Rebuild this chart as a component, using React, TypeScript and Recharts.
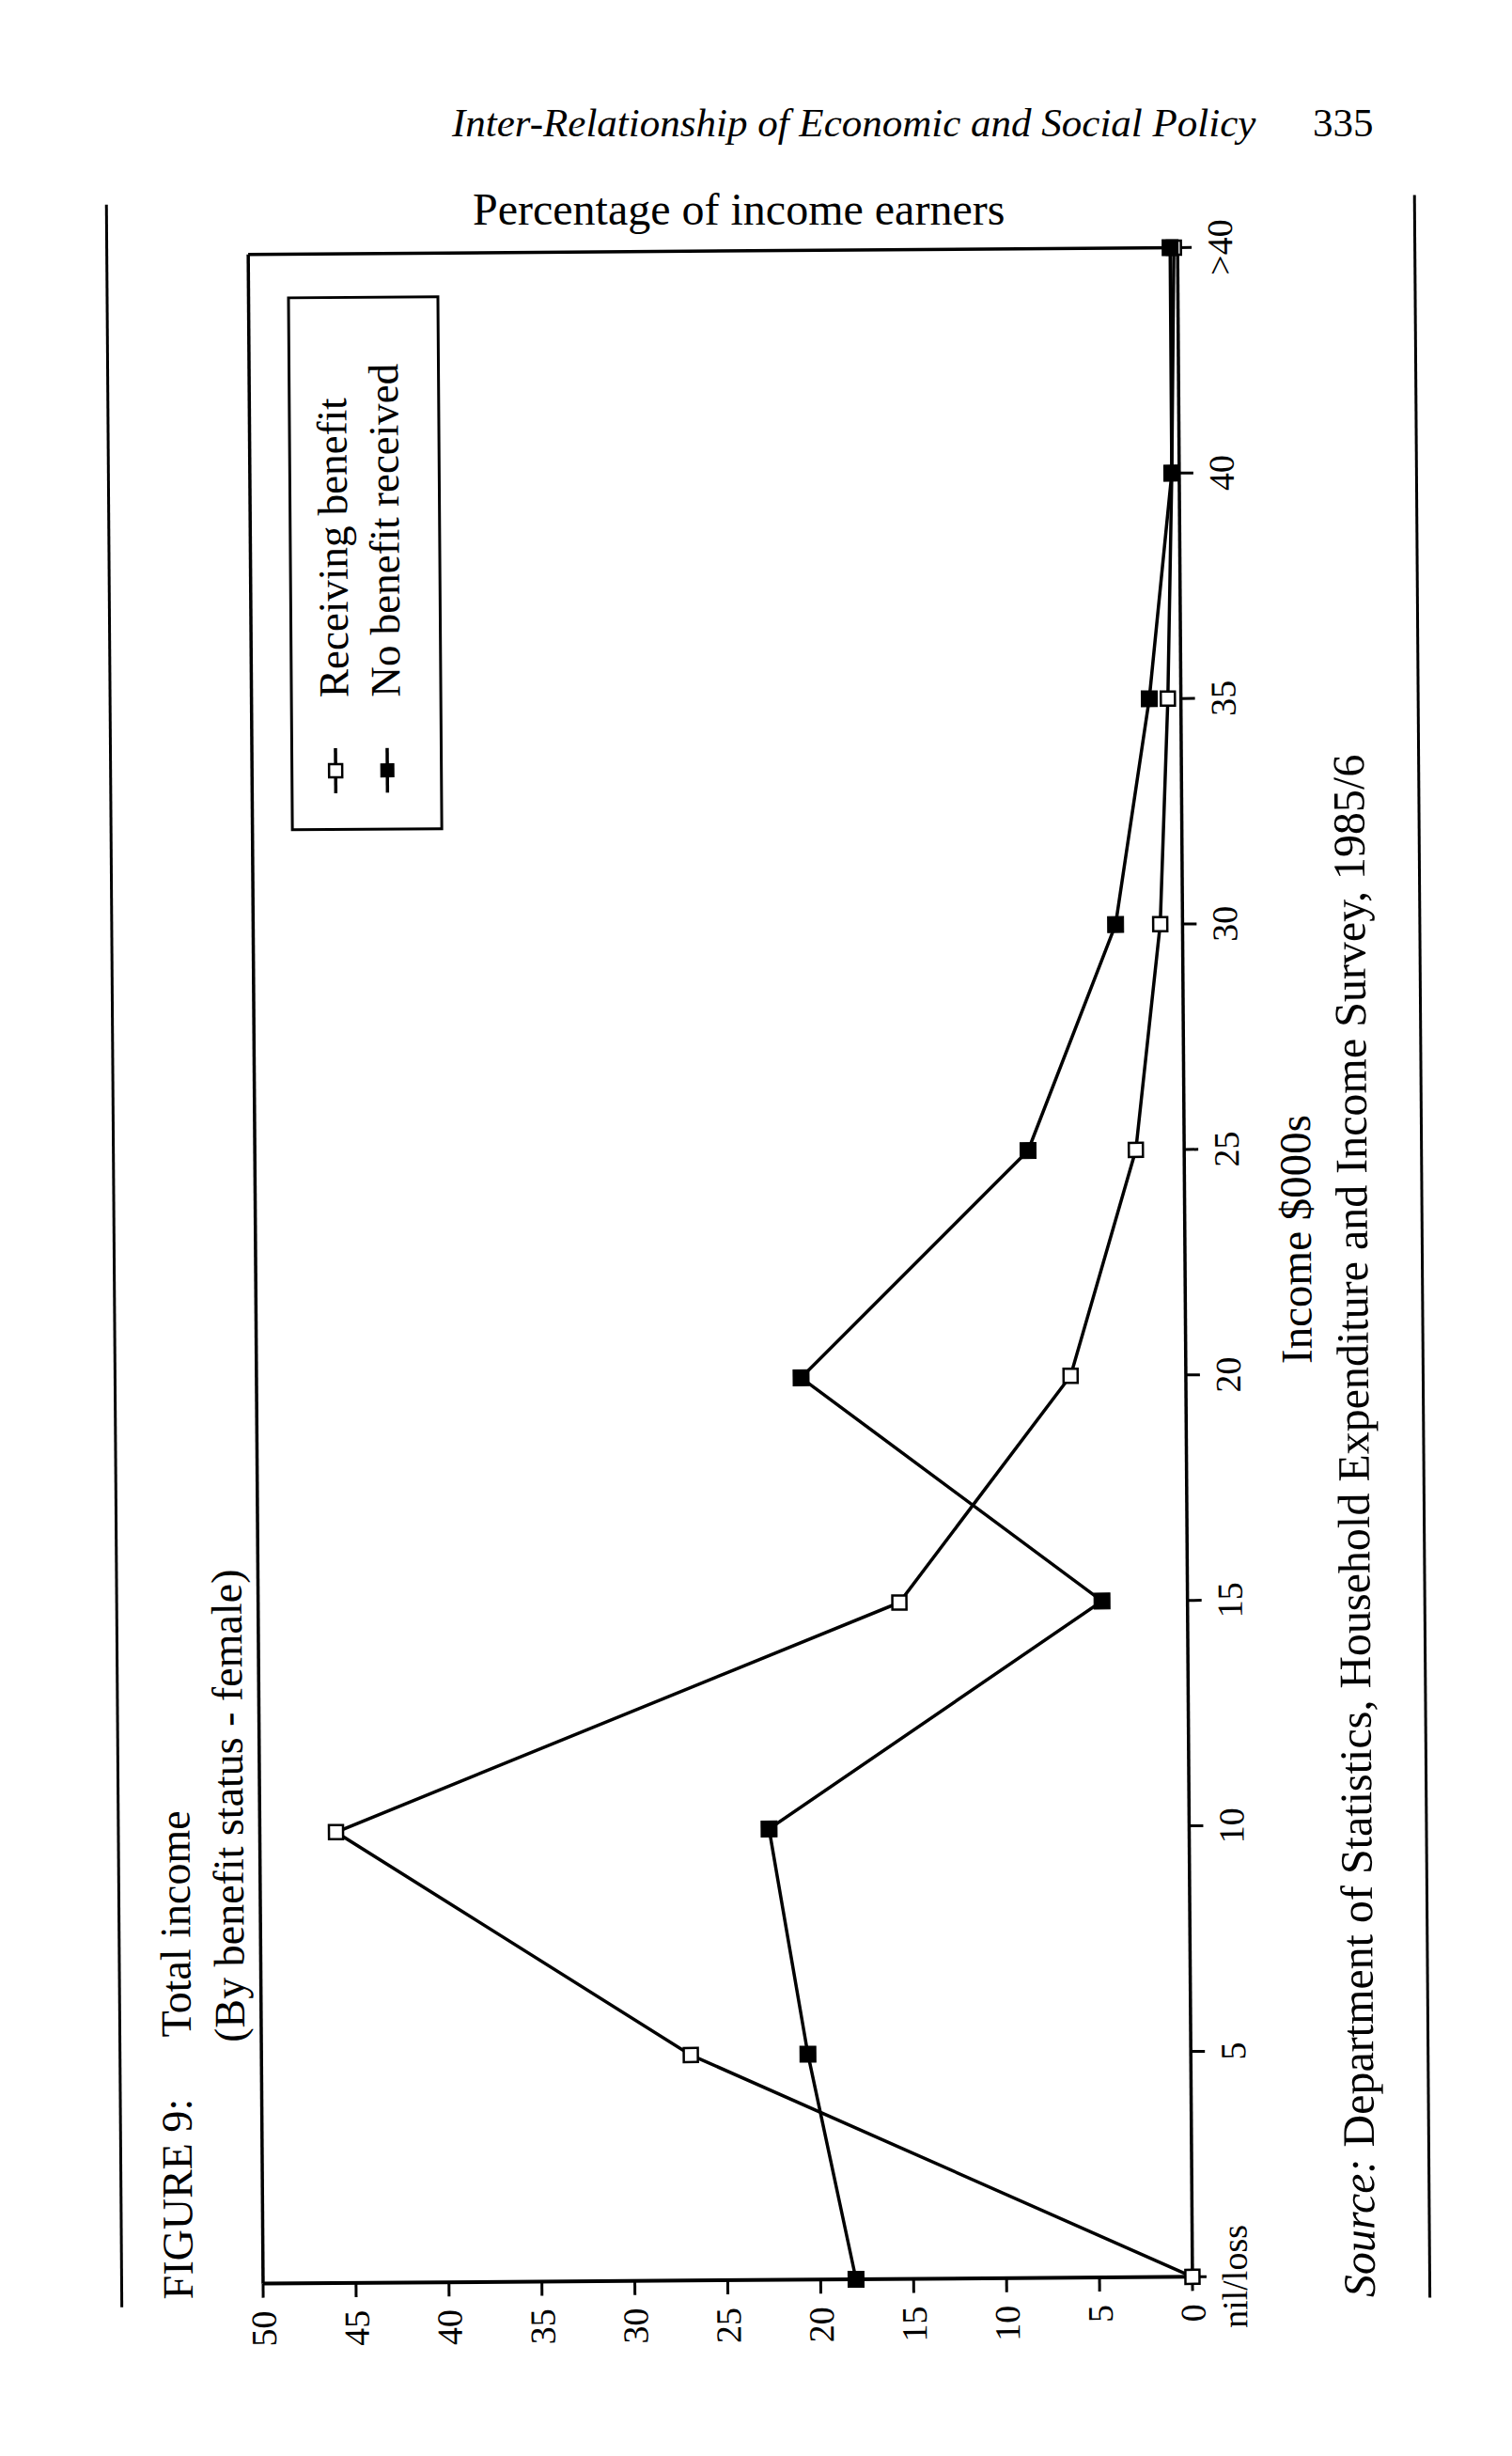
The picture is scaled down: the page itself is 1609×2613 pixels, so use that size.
import React from 'react'
import { LineChart, Line, XAxis, YAxis, ReferenceLine, Legend } from 'recharts'

const incomeBands = ['nil/loss', '5', '10', '15', '20', '25', '30', '35', '40', '>40']
const receivingBenefit = [0, 26.9, 45.9, 15.5, 6.2, 2.6, 1.2, 0.7, 0.4, 0.2]
const noBenefitReceived = [18.1, 20.6, 22.6, 4.6, 20.7, 8.4, 3.6, 1.7, 0.4, 0.4]
const percentTicks = [0, 5, 10, 15, 20, 25, 30, 35, 40, 45, 50]
const seriesNames = ['Receiving benefit', 'No benefit received']

const FONT = '"Liberation Serif", "Times New Roman", Times, serif'

// the figure is printed sideways on the page: it is laid out flat
// (PAGE_H wide, PAGE_W tall) and then turned a quarter turn to the left
const PAGE_W = 1609
const PAGE_H = 2613

const chartData = incomeBands.map((band, i) => ({
  band,
  receiving: receivingBenefit[i],
  noBenefit: noBenefitReceived[i],
}))

const SquareDot = ({ cx, cy, filled }: any) => {
  if (cx == null || cy == null) return null
  const s = filled ? 17 : 15
  return (
    <rect
      x={cx - s / 2}
      y={cy - s / 2}
      width={s}
      height={s}
      fill={filled ? '#000' : '#fff'}
      stroke="#000"
      strokeWidth={filled ? 1 : 2.5}
    />
  )
}

const LegendSymbol = ({ filled }: { filled: boolean }) => (
  <svg width={48} height={22} style={{ display: 'block' }}>
    <line x1={0} y1={11} x2={48} y2={11} stroke="#000" strokeWidth={3.5} />
    <rect
      x={17}
      y={4}
      width={14}
      height={14}
      fill={filled ? '#000' : '#fff'}
      stroke="#000"
      strokeWidth={filled ? 1 : 2.5}
    />
  </svg>
)

const renderLegend = () => (
  <div
    style={{
      width: 569,
      height: 162,
      boxSizing: 'border-box',
      border: '3px solid #000',
      background: '#fff',
      paddingTop: 17,
    }}
  >
    {seriesNames.map((name, i) => (
      <div key={name} style={{ display: 'flex', alignItems: 'center', height: 55 }}>
        <div style={{ width: 37 }} />
        <LegendSymbol filled={i === 1} />
        <div style={{ width: 54 }} />
        <span style={{ fontSize: 45, lineHeight: 1, fontFamily: FONT, whiteSpace: 'nowrap' }}>{name}</span>
      </div>
    ))}
  </div>
)

const textAt = (left: number, top: number, size: number, extra: React.CSSProperties = {}): React.CSSProperties => ({
  position: 'absolute',
  left,
  top,
  fontSize: size,
  lineHeight: 1,
  whiteSpace: 'nowrap',
  ...extra,
})

export default function App() {
  const tickStyle = { fontSize: 38, fill: '#000', fontFamily: FONT }

  return (
    <div
      style={{
        position: 'relative',
        width: PAGE_W,
        height: PAGE_H,
        background: '#fff',
        color: '#000',
        fontFamily: FONT,
        overflow: 'hidden',
      }}
    >
      <style>{'body{margin:0}'}</style>

      {/* running head */}
      <div style={textAt(481, 109, 43, { fontStyle: 'italic' })}>
        Inter-Relationship of Economic and Social Policy
      </div>
      <div style={textAt(1397, 109, 43)}>335</div>
      <div style={textAt(503, 199, 48)}>Percentage of income earners</div>

      {/* slight skew of the scan */}
      <div
        style={{
          position: 'absolute',
          left: 0,
          top: 0,
          width: PAGE_W,
          height: PAGE_H,
          transform: 'rotate(-0.42deg)',
          transformOrigin: '770px 1340px',
        }}
      >
        <div
          style={{
            position: 'absolute',
            left: 0,
            top: 0,
            width: PAGE_H,
            height: PAGE_W,
            transformOrigin: '0 0',
            transform: `translate(0px, ${PAGE_H}px) rotate(-90deg)`,
          }}
        >
          {/* rules above and below the figure */}
          <div style={{ position: 'absolute', left: 163, top: 120, width: 2237, height: 3, background: '#000' }} />
          <div style={{ position: 'absolute', left: 163, top: 1512, width: 2237, height: 3, background: '#000' }} />

          {/* figure caption */}
          <div style={textAt(171, 159, 46)}>FIGURE 9:</div>
          <div style={textAt(450, 159, 46)}>Total income</div>
          <div style={textAt(444, 216, 46)}>(By benefit status - female)</div>

          <div style={{ position: 'absolute', left: 0, top: 0 }}>
            <LineChart
              width={PAGE_H}
              height={PAGE_W}
              data={chartData}
              margin={{ top: 272, right: 267, bottom: 288, left: 107 }}
            >
              <XAxis
                dataKey="band"
                scale="point"
                padding={{ left: 0, right: 0 }}
                height={60}
                interval={0}
                tickSize={15}
                tickMargin={16}
                axisLine={{ stroke: '#000', strokeWidth: 3.5 }}
                tickLine={{ stroke: '#000', strokeWidth: 3 }}
                tick={tickStyle}
              />
              <YAxis
                type="number"
                domain={[0, 50]}
                ticks={percentTicks}
                interval={0}
                width={80}
                tickSize={15}
                tickMargin={14}
                axisLine={{ stroke: '#000', strokeWidth: 4 }}
                tickLine={{ stroke: '#000', strokeWidth: 3 }}
                tick={tickStyle}
              />
              <ReferenceLine y={50} stroke="#000" strokeWidth={3.5} />
              <ReferenceLine x=">40" stroke="#000" strokeWidth={3.5} />
              <Line
                type="linear"
                dataKey="receiving"
                name={seriesNames[0]}
                stroke="#000"
                strokeWidth={3.5}
                dot={(p: any) => <SquareDot key={`r-${p.index}`} {...p} filled={false} />}
                activeDot={false}
                isAnimationActive={false}
              />
              <Line
                type="linear"
                dataKey="noBenefit"
                name={seriesNames[1]}
                stroke="#000"
                strokeWidth={3.5}
                dot={(p: any) => <SquareDot key={`n-${p.index}`} {...p} filled />}
                activeDot={false}
                isAnimationActive={false}
              />
              <Legend
                layout="vertical"
                align="center"
                verticalAlign="middle"
                content={renderLegend}
                wrapperStyle={{ position: 'absolute', left: 1732, top: 313, width: 569, height: 162 }}
              />
            </LineChart>
          </div>

          {/* axis title and source note */}
          <div style={textAt(990, 1356, 47, { width: 600, textAlign: 'center' })}>Income $000s</div>
          <div style={textAt(164, 1415, 48)}>
            <i>Source:</i> Department of Statistics, Household Expenditure and Income Survey, 1985/6
          </div>
        </div>
      </div>
    </div>
  )
}
